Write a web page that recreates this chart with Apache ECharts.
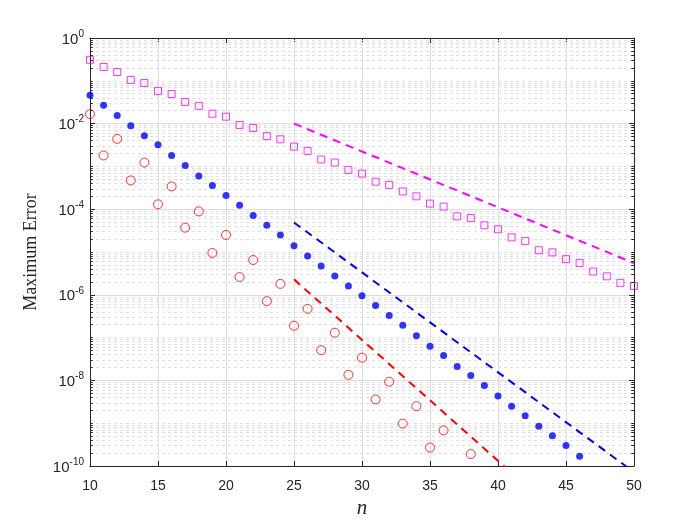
<!DOCTYPE html>
<html>
<head>
<meta charset="utf-8">
<script src="https://cdn.jsdelivr.net/npm/echarts@6/dist/echarts.min.js"></script>
<style>
  html, body { margin: 0; padding: 0; background: #fff; }
  #chart { width: 700px; height: 525px; }
</style>
</head>
<body>
<div id="chart"></div>
<script>
  // n values for each marker set
  const nSquare = [10, 11, 12, 13, 14, 15, 16, 17, 18, 19, 20, 21, 22, 23, 24, 25, 26, 27, 28, 29, 30,
    31, 32, 33, 34, 35, 36, 37, 38, 39, 40, 41, 42, 43, 44, 45, 46, 47, 48, 49, 50]
  const errSquare = [3.1e-1, 2.1e-1, 1.6e-1, 1.05e-1, 8.9e-2, 5.8e-2, 4.9e-2, 3.2e-2, 2.6e-2, 1.7e-2, 1.45e-2,
    9.3e-3, 7.9e-3, 5.1e-3, 4.3e-3, 2.9e-3, 2.3e-3, 1.45e-3, 1.23e-3, 8.3e-4, 6.8e-4,
    4.4e-4, 3.7e-4, 2.6e-4, 2.0e-4, 1.35e-4, 1.15e-4, 6.8e-5, 6.2e-5, 4.2e-5, 3.4e-5,
    2.2e-5, 1.8e-5, 1.1e-5, 9.8e-6, 6.8e-6, 5.5e-6, 3.5e-6, 2.7e-6, 1.9e-6, 1.6e-6]

  const nDot = [10, 11, 12, 13, 14, 15, 16, 17, 18, 19, 20, 21, 22, 23, 24, 25, 26, 27, 28, 29, 30,
    31, 32, 33, 34, 35, 36, 37, 38, 39, 40, 41, 42, 43, 44, 45, 46]
  const errDot = [4.6e-2, 2.7e-2, 1.55e-2, 8.9e-3, 5.2e-3, 3.2e-3, 1.8e-3, 1.05e-3, 6.0e-4, 3.6e-4, 2.1e-4,
    1.23e-4, 7.1e-5, 4.2e-5, 2.5e-5, 1.4e-5, 8.1e-6, 4.7e-6, 2.75e-6, 1.6e-6, 9.5e-7,
    5.6e-7, 3.3e-7, 1.95e-7, 1.1e-7, 6.3e-8, 3.8e-8, 2.1e-8, 1.3e-8, 7.6e-9, 4.3e-9,
    2.5e-9, 1.5e-9, 8.5e-10, 5.1e-10, 3.0e-10, 1.7e-10]

  const nCircle = [10, 11, 12, 13, 14, 15, 16, 17, 18, 19, 20, 21, 22, 23, 24, 25, 26, 27, 28, 29, 30,
    31, 32, 33, 34, 35, 36, 38]
  const errCircle = [1.66e-2, 1.8e-3, 4.4e-3, 4.7e-4, 1.23e-3, 1.3e-4, 3.4e-4, 3.7e-5, 8.9e-5, 9.5e-6, 2.5e-5,
    2.6e-6, 6.5e-6, 7.1e-7, 1.8e-6, 1.9e-7, 4.7e-7, 5.1e-8, 1.3e-7, 1.35e-8, 3.4e-8,
    3.6e-9, 9.3e-9, 9.8e-10, 2.5e-9, 2.7e-10, 6.8e-10, 1.9e-10]

  // reference slopes (dashed)
  const nRefMagenta = [25, 50]
  const refMagenta = [1.0e-2, 5.5e-6]
  const nRefBlue = [25, 50]
  const refBlue = [4.9e-5, 7.2e-11]
  const nRefRed = [25, 41]
  const refRed = [2.3e-6, 6.9e-11]

  // minor grid / minor ticks: 2..9 x 10^k and the odd decades
  const minorGrid = []
  for (let k = -10; k < 0; k++) {
    for (let m = 2; m <= 9; m++) minorGrid.push(m * Math.pow(10, k))
    if (k % 2 !== 0) minorGrid.push(Math.pow(10, k))
  }

  const zip = (xs, ys) => xs.map((x, i) => [x, ys[i]])

  const axisColor = '#262626'
  const labelFont = 'Liberation Sans, Arial, sans-serif'
  const serif = 'Liberation Serif, Times New Roman, serif'

  const mychart = echarts.init(document.getElementById('chart'))
  mychart.setOption({
    animation: false,
    grid: { left: 90, right: 66, top: 38, bottom: 59 },
    xAxis: [
      {
        type: 'value',
        min: 10,
        max: 50,
        interval: 5,
        name: 'n',
        nameLocation: 'middle',
        nameGap: 32,
        nameTextStyle: { fontFamily: serif, fontStyle: 'italic', fontSize: 21, color: axisColor },
        axisLine: { show: true, lineStyle: { color: axisColor, width: 1 } },
        axisTick: { show: true, inside: true, length: 5, lineStyle: { color: axisColor } },
        axisLabel: { fontSize: 14, color: axisColor, fontFamily: labelFont, margin: 13 },
        splitLine: { show: true, lineStyle: { color: '#dcdcdc', width: 1 } }
      },
      {
        type: 'value',
        position: 'top',
        min: 10,
        max: 50,
        interval: 5,
        axisLine: { show: true, lineStyle: { color: axisColor, width: 1 } },
        axisTick: { show: true, inside: true, length: 5, lineStyle: { color: axisColor } },
        axisLabel: { show: false },
        splitLine: { show: false }
      }
    ],
    yAxis: [
      {
        type: 'log',
        logBase: 100,
        min: 1e-10,
        max: 1,
        splitNumber: 5,
        name: 'Maximum Error',
        nameLocation: 'middle',
        nameGap: 50,
        nameTextStyle: { fontFamily: serif, fontSize: 18, color: axisColor },
        axisLine: { show: true, lineStyle: { color: axisColor, width: 1 } },
        axisTick: { show: true, inside: true, length: 5, lineStyle: { color: axisColor } },
        axisLabel: {
          margin: 6,
          formatter: v => '{b|10}{e|' + Math.round(Math.log10(v)) + '}',
          rich: {
            b: { fontSize: 15, color: axisColor, fontFamily: labelFont, verticalAlign: 'bottom' },
            e: { fontSize: 10, color: axisColor, fontFamily: labelFont, verticalAlign: 'bottom', padding: [0, 0, 8, 0] }
          }
        },
        splitLine: { show: true, lineStyle: { color: '#dcdcdc', width: 1 } }
      },
      {
        type: 'log',
        logBase: 100,
        min: 1e-10,
        max: 1,
        splitNumber: 5,
        position: 'right',
        axisLine: { show: true, lineStyle: { color: axisColor, width: 1 } },
        axisTick: { show: true, inside: true, length: 5, lineStyle: { color: axisColor } },
        axisLabel: { show: false },
        splitLine: { show: false }
      }
    ],
    series: [
      {
        // dotted minor grid
        type: 'lines',
        coordinateSystem: 'cartesian2d',
        silent: true,
        z: 1,
        lineStyle: { color: '#e0e0e0', width: 1, type: [3, 3], opacity: 1 },
        data: minorGrid.map(v => ({ coords: [[10, v], [50, v]] }))
      },
      {
        // minor ticks, left and right
        type: 'lines',
        coordinateSystem: 'cartesian2d',
        silent: true,
        z: 4,
        lineStyle: { color: axisColor, width: 1, opacity: 1 },
        data: minorGrid.map(v => ({ coords: [[10, v], [10.2, v]] }))
          .concat(minorGrid.map(v => ({ coords: [[49.8, v], [50, v]] })))
      },
      {
        type: 'scatter',
        name: 'square',
        symbol: 'rect',
        symbolSize: 7,
        z: 3,
        itemStyle: { color: 'transparent', borderColor: '#ff00ff', borderWidth: 1 },
        data: zip(nSquare, errSquare)
      },
      {
        type: 'scatter',
        name: 'dot',
        symbol: 'circle',
        symbolSize: 7,
        z: 3,
        itemStyle: { color: '#0000ff' },
        data: zip(nDot, errDot)
      },
      {
        type: 'scatter',
        name: 'circle',
        symbol: 'circle',
        symbolSize: 9,
        z: 3,
        itemStyle: { color: 'transparent', borderColor: '#ff0000', borderWidth: 1 },
        data: zip(nCircle, errCircle)
      },
      {
        type: 'line',
        showSymbol: false,
        clip: true,
        z: 3,
        lineStyle: { color: '#ff00ff', width: 2, type: [8, 6] },
        data: zip(nRefMagenta, refMagenta)
      },
      {
        type: 'line',
        showSymbol: false,
        clip: true,
        z: 3,
        lineStyle: { color: '#0000ff', width: 2, type: [8, 6] },
        data: zip(nRefBlue, refBlue)
      },
      {
        type: 'line',
        showSymbol: false,
        clip: true,
        z: 3,
        lineStyle: { color: '#ff0000', width: 2, type: [8, 6] },
        data: zip(nRefRed, refRed)
      }
    ]
  })
</script>
</body>
</html>
